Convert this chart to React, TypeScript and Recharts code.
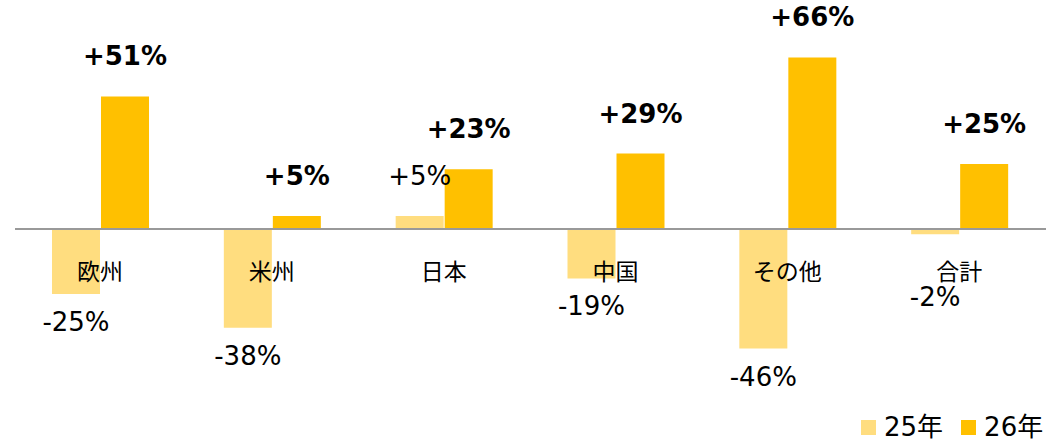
import React from "react";
import { BarChart, Bar, XAxis, YAxis, ReferenceLine, LabelList } from "recharts";

const categories = ["欧州", "米州", "日本", "中国", "その他", "合計"];
const y25 = [-25, -38, 5, -19, -46, -2];
const y26 = [51, 5, 23, 29, 66, 25];

const C25 = "#FFDD7F";
const C26 = "#FFC000";
const NUM_FONT = "'DejaVu Sans', Verdana, sans-serif";
const JP_FONT = "'Noto Sans CJK JP', sans-serif";

const data = categories.map((name, i) => ({ name, y25: y25[i], y26: y26[i] }));

const fmt = (v: number) => (v > 0 ? `+${v}%` : `${v}%`);

// 25年: positive above bar, negative below the bar (kept clear of the category name)
const label25 = (props: any) => {
  const { x, y, width, height, value, background } = props;
  const top = Math.min(y, y + height);
  const bottom = Math.max(y, y + height);
  const zeroY = value >= 0 ? bottom : top;
  const cy = value >= 0 ? top - 40 : Math.max(bottom + 28, zeroY + 68);
  return (
    <text x={x + width / 2} y={cy} textAnchor="middle" dominantBaseline="central"
      fontFamily={NUM_FONT} fontSize={26} fill="#000">
      {fmt(value)}
    </text>
  );
};

const label26 = (props: any) => {
  const { x, y, width, height, value } = props;
  const top = Math.min(y, y + height);
  return (
    <text x={x + width / 2} y={top - 40} textAnchor="middle" dominantBaseline="central"
      fontFamily={NUM_FONT} fontSize={26} fontWeight="bold" fill="#000">
      {fmt(value)}
    </text>
  );
};

const categoryLabel = (props: any) => {
  const { x, y, height, index } = props;
  const zeroY = Math.max(y, y + height);
  return (
    <text x={x - 1} y={zeroY + 41} textAnchor="middle" dominantBaseline="central"
      fontFamily={JP_FONT} fontSize={23} fill="#000">
      {categories[index]}
    </text>
  );
};

export default function App() {
  return (
    <div style={{ position: "absolute", left: 0, top: 0, width: 1061, height: 442, background: "#fff", overflow: "hidden" }}>
      <BarChart width={1061} height={442} data={data} barGap={1} barSize={48}
        margin={{ top: 21, right: 15, left: 15, bottom: 57 }}>
        <XAxis dataKey="name" hide />
        <YAxis hide domain={[-60, 80]} />
        <Bar dataKey="y25" fill={C25} isAnimationActive={false}>
          <LabelList dataKey="y25" content={label25} />
        </Bar>
        <Bar dataKey="y26" fill={C26} isAnimationActive={false}>
          <LabelList dataKey="y26" content={label26} />
          <LabelList dataKey="y26" content={categoryLabel} />
        </Bar>
        <ReferenceLine y={0} stroke="#999" strokeWidth={2} />
      </BarChart>
      <div style={{ position: "absolute", left: 861, top: 414, display: "flex", alignItems: "center",
        fontFamily: NUM_FONT, fontSize: 26, color: "#000", lineHeight: "26px", whiteSpace: "nowrap" }}>
        <span style={{ width: 15, height: 15, background: C25, display: "inline-block", marginRight: 8 }} />
        <span style={{ fontFamily: `${NUM_FONT}, ${JP_FONT}` }}>25年</span>
        <span style={{ width: 15, height: 15, background: C26, display: "inline-block", marginLeft: 18, marginRight: 8 }} />
        <span style={{ fontFamily: `${NUM_FONT}, ${JP_FONT}` }}>26年</span>
      </div>
    </div>
  );
}
